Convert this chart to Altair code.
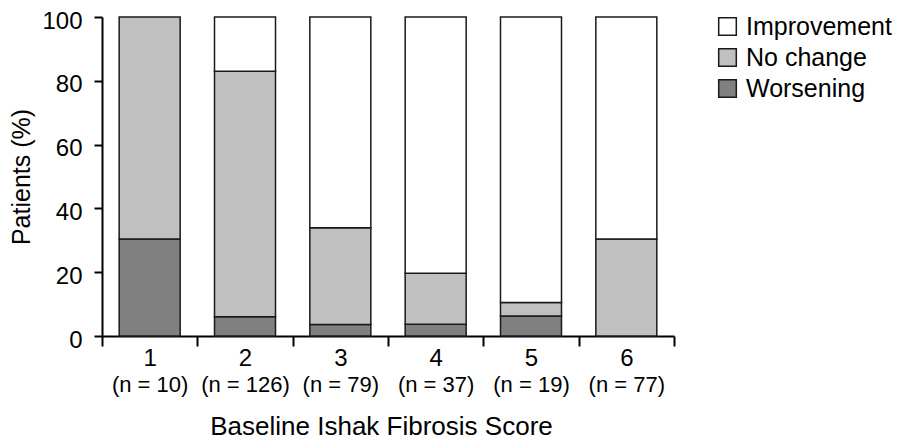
import altair as alt
import pandas as pd

scores = [1, 2, 3, 4, 5, 6]
n_patients = [10, 126, 79, 37, 19, 77]
worsening = [30.4, 6.0, 3.6, 3.7, 6.3, 0.0]
no_change = [69.6, 77.0, 30.3, 16.0, 4.2, 30.4]
improvement = [0.0, 17.0, 66.1, 80.3, 89.5, 69.6]

categories = ["Improvement", "No change", "Worsening"]
fills = ["#ffffff", "#c0c0c0", "#808080"]

rows = []
for i, s in enumerate(scores):
    for cat, vals, o in [("Worsening", worsening, 0), ("No change", no_change, 1), ("Improvement", improvement, 2)]:
        rows.append({"score": s, "status": cat, "value": vals[i], "ord": o})
df = pd.DataFrame(rows)

FONT = "Liberation Sans"
W, H = 572, 319
xscale = alt.Scale(domain=[0.5, 6.5], nice=False, zero=False, padding=0)
yscale = alt.Scale(domain=[0, 100], nice=False)

n_expr = "[" + ",".join("'(n = %d)'" % n for n in n_patients) + "][datum.value - 1]"

base = alt.Chart(df).transform_filter("datum.value > 0")

bars = base.mark_bar(size=61, stroke="#1a1a1a", strokeWidth=1.5).encode(
    x=alt.X("score:Q", scale=xscale,
            axis=alt.Axis(orient="bottom", values=[0.5, 1.5, 2.5, 3.5, 4.5, 5.5, 6.5],
                          labels=False, title=None,
                          tickSize=10, tickWidth=2, tickColor="black", domainColor="black",
                          domainWidth=2, grid=False)),
    y=alt.Y("value:Q", stack="zero", scale=yscale,
            axis=alt.Axis(values=[0, 20, 40, 60, 80, 100], title="Patients (%)",
                          tickSize=8, tickWidth=2, tickColor="black", domainColor="black",
                          domainWidth=2, labelFontSize=24, labelPadding=12, labelColor="black",
                          labelOffset=4,
                          titleFontSize=25, titleFontWeight="normal", titleColor="black",
                          titlePadding=7, grid=False)),
    color=alt.Color("status:N", scale=alt.Scale(domain=categories, range=fills),
                    legend=alt.Legend(title=None, orient="none", legendX=613, legendY=-3,
                                      symbolType="square", symbolSize=310,
                                      symbolStrokeColor="#1a1a1a", symbolStrokeWidth=1.5,
                                      labelFontSize=25, labelColor="black", rowPadding=5,
                                      labelOffset=6, labelLimit=400)),
    order=alt.Order("ord:Q"),
)

labels1 = base.mark_point(opacity=0).encode(
    x=alt.X("score:Q", scale=xscale,
            axis=alt.Axis(orient="bottom", values=scores, ticks=False, domain=False,
                          labelFontSize=24, labelColor="black", labelPadding=10,
                          title=None, grid=False)),
)

labels2 = base.mark_point(opacity=0).encode(
    x=alt.X("score:Q", scale=xscale,
            axis=alt.Axis(orient="bottom", values=scores, ticks=False, domain=False,
                          labelFontSize=22, labelColor="black", labelPadding=38,
                          labelExpr=n_expr,
                          title="Baseline Ishak Fibrosis Score", titleFontSize=26,
                          titleFontWeight="normal", titleColor="black", titlePadding=18,
                          titleX=279, grid=False)),
)

chart = alt.layer(bars, labels1, labels2).resolve_axis(x="independent").properties(
    width=W, height=H,
    autosize=alt.AutoSizeParams(type="none"),
    padding={"left": 94, "top": 9, "right": 222, "bottom": 104},
).configure(font=FONT).configure_view(stroke=None)

chart.save("out.html", embed_options={"renderer": "svg", "actions": False})
